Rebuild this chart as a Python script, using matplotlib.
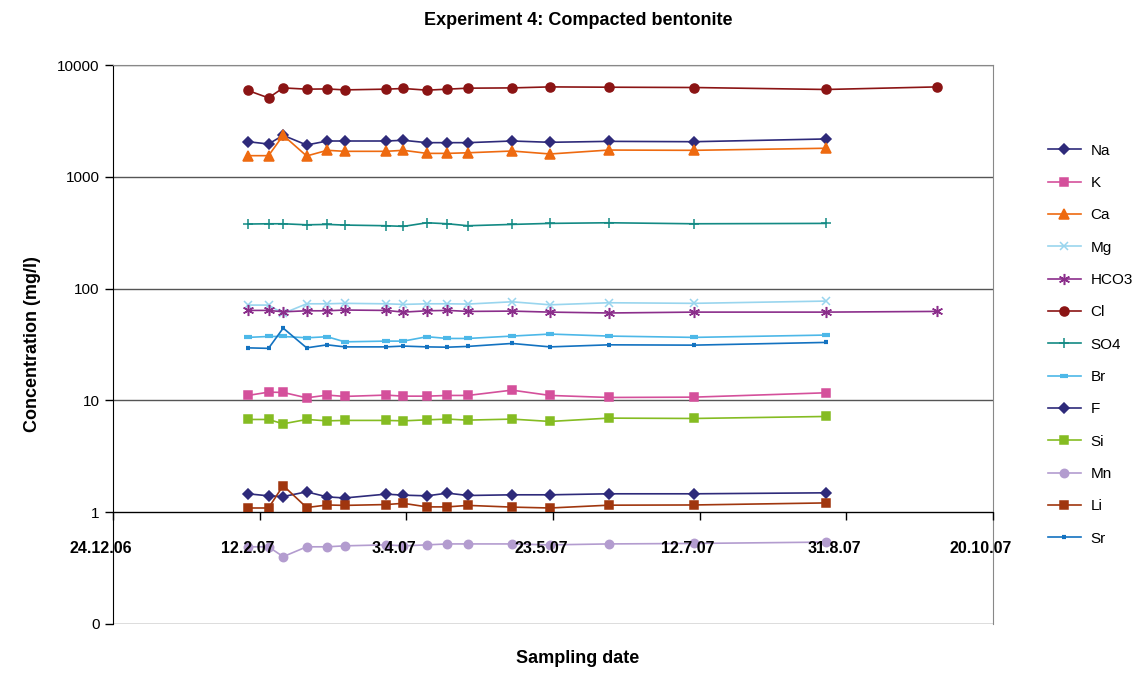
import numpy as np
import pandas as pd
import matplotlib
matplotlib.use('Agg')
import matplotlib.pyplot as plt
from matplotlib.transforms import ScaledTranslation

plt.rcParams['font.family'] = ['Liberation Sans', 'DejaVu Sans']

# sampling dates
dates = pd.to_datetime(['2007-02-08', '2007-02-15', '2007-02-20', '2007-02-28',
                        '2007-03-07', '2007-03-13', '2007-03-27', '2007-04-02',
                        '2007-04-10', '2007-04-17', '2007-04-24', '2007-05-09',
                        '2007-05-22', '2007-06-11', '2007-07-10', '2007-08-24'])
dates_long = dates.append(pd.to_datetime(['2007-10-01']))

# concentrations in mg/l
na = [2060, 1965, 2350, 1925, 2090, 2090, 2090, 2120, 2020, 2020, 2020, 2090, 2035, 2075, 2060, 2180]
k = [11.07, 11.85, 11.78, 10.54, 11.15, 10.85, 11.15, 10.91, 10.91, 11.07, 11.07, 12.35, 11.07, 10.62, 10.69, 11.69]
ca = [1545, 1545, 2350, 1535, 1725, 1690, 1690, 1725, 1620, 1620, 1640, 1700, 1600, 1735, 1725, 1800]
mg = [71.2, 71.2, 60, 73.1, 73.1, 73.8, 73.1, 72.2, 73.1, 73.1, 72.7, 76.2, 71.6, 74.7, 73.8, 77.3]
hco3 = [63.8, 63.8, 62.0, 63.3, 63.3, 64.3, 63.8, 61.6, 63.3, 63.8, 62.5, 62.9, 61.6, 60.5, 61.6, 61.6, 62.5]
cl = [5915, 5080, 6240, 6080, 6110, 5990, 6080, 6165, 5955, 6080, 6205, 6240, 6370, 6330, 6290, 6040, 6370]
so4 = [378, 380, 380, 372, 375, 370, 365, 360, 388, 380, 365, 375, 383, 388, 380, 383]
br = [36.6, 37.3, 37.3, 36.3, 37.1, 33.4, 33.9, 33.9, 37.1, 35.8, 35.8, 37.6, 39.2, 37.6, 36.6, 38.4]
f = [1.46, 1.40, 1.38, 1.52, 1.37, 1.34, 1.45, 1.42, 1.40, 1.48, 1.41, 1.43, 1.43, 1.46, 1.46, 1.49]
si = [6.75, 6.75, 6.17, 6.75, 6.56, 6.62, 6.62, 6.56, 6.70, 6.80, 6.66, 6.80, 6.48, 6.94, 6.89, 7.18]
mn = [0.49, 0.49, 0.40, 0.49, 0.49, 0.50, 0.51, 0.50, 0.51, 0.52, 0.52, 0.52, 0.51, 0.52, 0.525, 0.54]
li = [1.09, 1.09, 1.73, 1.10, 1.16, 1.15, 1.17, 1.20, 1.115, 1.115, 1.15, 1.11, 1.09, 1.155, 1.16, 1.21]
sr = [29.5, 29.2, 44.3, 29.5, 31.4, 30.1, 30.1, 30.6, 30.1, 29.9, 30.4, 32.3, 30.1, 31.4, 31.2, 33.0]

yticks = [0.1, 1, 10, 100, 1000, 10000]
ylabels = ['0', '1', '10', '100', '1000', '10000']

series = [
    ('Na', dates, na, '#2E2A7A', 'D', 5),
    ('K', dates, k, '#D4509B', 's', 6),
    ('Ca', dates, ca, '#EE6A10', '^', 7),
    ('Mg', dates, mg, '#99D5EE', 'x', 6),
    ('HCO3', dates_long, hco3, '#8B2E8B', (6, 2, 0), 8),
    ('Cl', dates_long, cl, '#8B1414', 'o', 6.5),
    ('SO4', dates, so4, '#138A84', '+', 7),
    ('Br', dates, br, '#4DB8E8', '_', 6),
    ('F', dates, f, '#2E2A7A', 'D', 5),
    ('Si', dates, si, '#85BC22', 's', 6),
    ('Mn', dates, mn, '#B39CCF', 'o', 6),
    ('Li', dates, li, '#A0360E', 's', 6),
    ('Sr', dates, sr, '#1372C0', '_', 3.5),
]

fig = plt.figure(figsize=(11.43, 6.75), dpi=100)
ax = fig.add_axes([0.0989, 0.0756, 0.7699, 0.8281])

for name, x, y, c, m, ms in series:
    mew = 3 if m == '_' else 1.1
    ax.plot(x, y, color=c, marker=m, markersize=ms, linewidth=1.2,
            markeredgecolor=c, markerfacecolor=c, markeredgewidth=mew, label=name)

ax.set_yscale('log')
ax.set_ylim(0.1, 10000)
ax.set_yticks(yticks)
ax.set_yticklabels(ylabels)
ax.yaxis.set_minor_locator(matplotlib.ticker.NullLocator())
ax.grid(axis='y', color='#555555', linewidth=1)
ax.set_axisbelow(True)

start = pd.Timestamp('2006-12-24')
xt = pd.date_range(start, periods=7, freq='50D')
ax.set_xlim(xt[0], xt[-1])
ax.set_xticks(xt)
ax.set_xticklabels([f'{d.day}.{d.month}.{d:%y}' for d in xt])
ax.xaxis.set_minor_locator(matplotlib.ticker.NullLocator())
# date labels are printed over the Mn series
ax.xaxis.set_zorder(3)

ax.spines['bottom'].set_position(('data', 1))
ax.spines['bottom'].set_color('black')
ax.spines['left'].set_color('black')
ax.spines['top'].set_color('#888888')
ax.spines['right'].set_color('#888888')
ax.tick_params(axis='x', direction='out', length=6, pad=15, width=1, labelsize=11.5)
ax.tick_params(axis='y', direction='out', length=6, labelsize=11, width=1)
# date labels sit a little left of their ticks
shift = ScaledTranslation(-0.12, 0, fig.dpi_scale_trans)
for lbl in ax.get_xticklabels():
    lbl.set_fontweight('bold')
    lbl.set_transform(lbl.get_transform() + shift)

ax.set_ylabel('Concentration (mg/l)', fontsize=13, fontweight='bold', labelpad=12)
fig.text(0.5055, 0.0185, 'Sampling date', fontsize=13, fontweight='bold', ha='center')
fig.text(0.5055, 0.963, 'Experiment 4: Compacted bentonite', fontsize=13,
         fontweight='bold', ha='center')

ax.legend(loc='upper left', bbox_to_anchor=(1.055, 0.87), frameon=False, fontsize=11,
          handlelength=2.2, handletextpad=0.6, labelspacing=1.2, borderaxespad=0)

fig.savefig('out.png', dpi=100)
